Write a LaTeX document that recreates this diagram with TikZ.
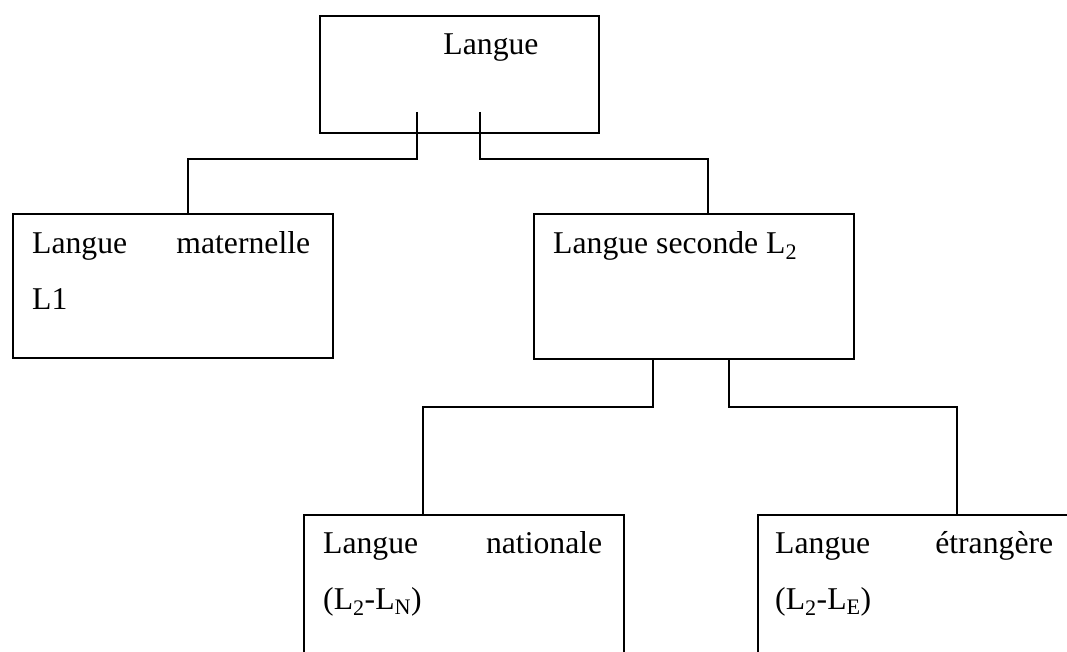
\documentclass[tikz,border=0pt]{standalone}
\usepackage{fontspec}
\setmainfont{Liberation Serif}
\tikzset{
  boite/.style={draw, line width=2pt, anchor=north west, inner sep=0pt},
  trait/.style={line width=2pt},
  texte/.style={anchor=base west, inner sep=0pt, align=justify, font=\fontsize{31.7pt}{56pt}\selectfont}
}

\begin{document}
\begin{tikzpicture}[x=1pt,y=-1pt]
			\clip (0,0) rectangle (1067,652);
			\node[boite, minimum width=279pt, minimum height=117pt] (lang) at (319,15) {};
			\node[texte, anchor=base] (langt) at (491,55) {Langue};
			
			\node[boite, minimum width=320pt, minimum height=144pt] (mat) at (12,213) {};
			\node[texte, text width=278pt] (matt) at (32,253) {Langue\hfill maternelle\\L1};
			
			\node[boite, minimum width=320pt, minimum height=145pt] (sec) at (533,213) {};
			\node[texte] (sect) at (553,253) {Langue seconde L\textsubscript{2}};
			
			\node[boite, minimum width=320pt, minimum height=200pt] (nat) at (303,514) {};
			\node[texte, text width=279pt] (natt) at (323,553) {Langue\hfill nationale\\(L\textsubscript{2}-L\textsubscript{N})};
			
			\node[boite, minimum width=320pt, minimum height=200pt] (etr) at (757,514) {};
			\node[texte, text width=278pt] (etrt) at (775,553) {Langue\hfill étrangère\\(L\textsubscript{2}-L\textsubscript{E})};
			
			\coordinate (g) at (417,112); \coordinate (d) at (480,112);
			\draw[trait] (g) -- ++(0,47) -| ([xshift=176pt]mat.north west);
			\draw[trait] (d) -- ++(0,47) -| ([xshift=175pt]sec.north west);
			\draw[trait] ([xshift=120pt]sec.south west) -- ++(0,47) -| ([xshift=120pt]nat.north west);
			\draw[trait] ([xshift=196pt]sec.south west) -- ++(0,47) -| ([xshift=200pt]etr.north west);
\end{tikzpicture}
\end{document}
